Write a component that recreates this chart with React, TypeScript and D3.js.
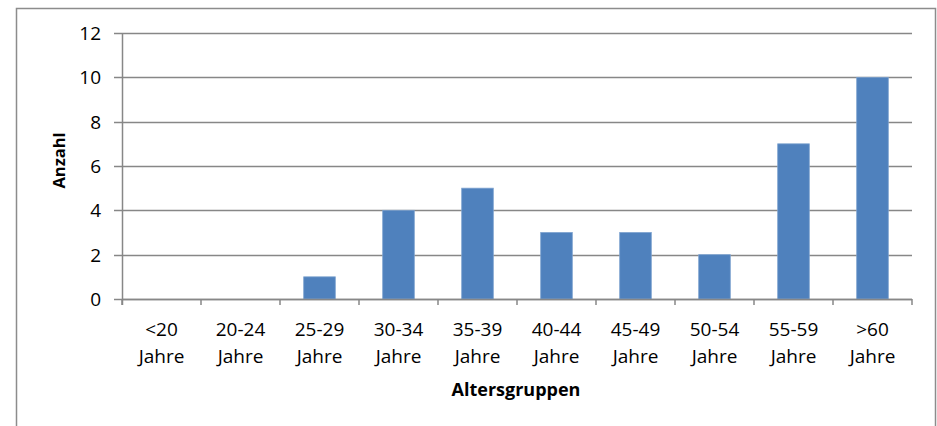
import React, { useEffect, useRef } from 'react';
import * as d3 from 'd3';

const categories = ['<20 Jahre', '20-24 Jahre', '25-29 Jahre', '30-34 Jahre', '35-39 Jahre', '40-44 Jahre', '45-49 Jahre', '50-54 Jahre', '55-59 Jahre', '>60 Jahre'];
const counts = [0, 0, 1, 4, 5, 3, 3, 2, 7, 10];
const yTicks = [0, 2, 4, 6, 8, 10, 12];
const xTitle = 'Altersgruppen';
const yTitle = 'Anzahl';

const W = 937;
const H = 426;
const margin = { left: 122, right: 25, top: 33, bottom: 127 };
const font = '"Open Sans", "Noto Sans", sans-serif';

const App: React.FC = () => {
  const svgRef = useRef<SVGSVGElement>(null);

  useEffect(() => {
    if (!svgRef.current) return;
    const svg = d3.select(svgRef.current);
    svg.selectAll('*').remove();

    // chart frame
    svg.append('rect')
      .attr('x', 16.5).attr('y', 8.5)
      .attr('width', 919).attr('height', 440)
      .attr('fill', '#fff').attr('stroke', '#8c8c8c').attr('stroke-width', 1.5);

    const x = d3.scaleBand<string>()
      .domain(categories)
      .range([margin.left, W - margin.right])
      .paddingInner(0.6)
      .paddingOuter(0.3);

    const y = d3.scaleLinear()
      .domain([0, 12])
      .range([H - margin.bottom, margin.top]);

    // gridlines
    svg.append('g')
      .selectAll('line')
      .data(yTicks)
      .enter()
      .append('line')
      .attr('x1', margin.left - 8)
      .attr('x2', W - margin.right)
      .attr('y1', d => Math.round(y(d)) + 0.5)
      .attr('y2', d => Math.round(y(d)) + 0.5)
      .attr('stroke', '#878787')
      .attr('stroke-width', 1.5);

    // y labels
    svg.append('g')
      .selectAll('text')
      .data(yTicks)
      .enter()
      .append('text')
      .attr('x', 101)
      .attr('y', d => y(d))
      .attr('dy', '0.36em')
      .attr('text-anchor', 'end')
      .attr('font-family', font)
      .attr('font-size', 19)
      .attr('fill', '#000')
      .text(d => d);

    // bars
    svg.append('g')
      .selectAll('rect')
      .data(counts)
      .enter()
      .append('rect')
      .attr('x', (d, i) => x(categories[i]) as number)
      .attr('y', d => y(d))
      .attr('width', x.bandwidth())
      .attr('height', d => y(0) - y(d))
      .attr('fill', '#4f81bd')
      .attr('stroke', d => (d > 0 ? '#7da2cf' : 'none'))
      .attr('stroke-width', 0.8);

    // y axis line
    svg.append('line')
      .attr('x1', margin.left + 0.5).attr('x2', margin.left + 0.5)
      .attr('y1', margin.top).attr('y2', y(0) + 6)
      .attr('stroke', '#878787').attr('stroke-width', 1.5);

    // x axis line and category ticks
    svg.append('line')
      .attr('x1', margin.left).attr('x2', W - margin.right)
      .attr('y1', Math.round(y(0)) + 0.5).attr('y2', Math.round(y(0)) + 0.5)
      .attr('stroke', '#878787').attr('stroke-width', 1.5);

    const step = x.step();
    const bounds = d3.range(categories.length + 1).map(i => margin.left + i * step);
    svg.append('g')
      .selectAll('line')
      .data(bounds)
      .enter()
      .append('line')
      .attr('x1', d => d).attr('x2', d => d)
      .attr('y1', y(0)).attr('y2', y(0) + 6)
      .attr('stroke', '#878787').attr('stroke-width', 1.5);

    // category labels
    const lbl = svg.append('g')
      .selectAll('text')
      .data(categories)
      .enter()
      .append('text')
      .attr('text-anchor', 'middle')
      .attr('font-family', font)
      .attr('font-size', 19)
      .attr('fill', '#000');
    lbl.append('tspan')
      .attr('x', d => (x(d) as number) + x.bandwidth() / 2)
      .attr('y', 336)
      .text(d => d.split(' ')[0]);
    lbl.append('tspan')
      .attr('x', d => (x(d) as number) + x.bandwidth() / 2)
      .attr('y', 362.5)
      .text(d => d.split(' ')[1]);

    // axis titles
    svg.append('text')
      .attr('x', 516)
      .attr('y', 395.5)
      .attr('text-anchor', 'middle')
      .attr('font-family', font)
      .attr('font-size', 18)
      .attr('font-weight', 'bold')
      .text(xTitle);

    svg.append('text')
      .attr('transform', `translate(65, 160.5) rotate(-90)`)
      .attr('text-anchor', 'middle')
      .attr('font-family', font)
      .attr('font-size', 16.5)
      .attr('font-weight', 'bold')
      .text(yTitle);
  }, []);

  return (
    <svg
      ref={svgRef}
      width={W}
      height={H}
      style={{ position: 'absolute', left: 0, top: 0, background: '#fff' }}
    />
  );
};

export default App;
